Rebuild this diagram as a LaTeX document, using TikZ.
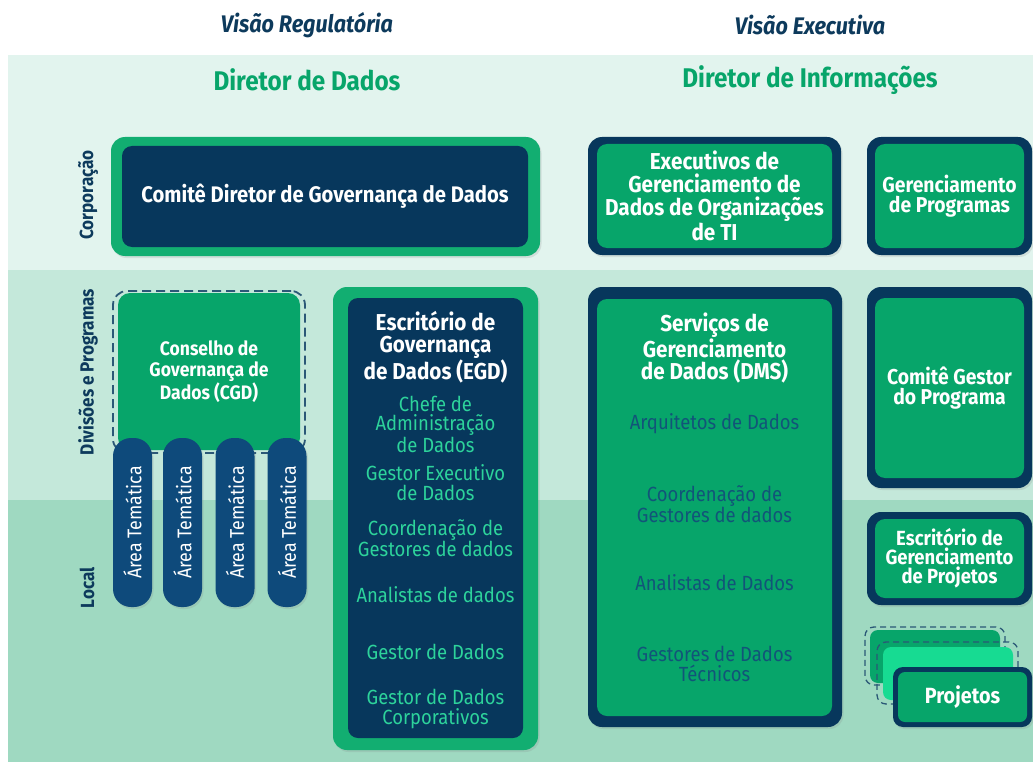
\documentclass[tikz,border=0pt]{standalone}
\usepackage{fontspec}
\setmainfont[FakeStretch=0.9]{Fira Sans}
\usetikzlibrary{shadows}
\definecolor{navy}{HTML}{07375C}
\definecolor{gmain}{HTML}{07A56A}
\definecolor{gouter}{HTML}{12AE71}
\definecolor{gtext}{HTML}{2DD39B}
\definecolor{bandA}{HTML}{E2F4EE}
\definecolor{bandB}{HTML}{C4E8DA}
\definecolor{bandC}{HTML}{9FD9C1}
\definecolor{pillc}{HTML}{0E4A7B}
\definecolor{gbright}{HTML}{17DB92}
\definecolor{dashc}{HTML}{2B5877}
\definecolor{titlec}{HTML}{0D3A5C}
\definecolor{dmstext}{HTML}{125479}
\newcommand\fTop{\fontsize{24}{26}\selectfont\bfseries\itshape}
\newcommand\fHead{\fontsize{27}{29}\selectfont\bfseries}
\newcommand\fBig{\fontsize{22.5}{21.5}\selectfont\bfseries}
\newcommand\fMid{\fontsize{21.5}{20.5}\selectfont\bfseries}
\newcommand\fItem{\fontsize{20.5}{19.8}\selectfont}
\newcommand\fSide{\fontsize{19}{20}\selectfont\bfseries}
\tikzset{
  shell/.style={rounded corners=14pt, inner sep=0pt, outer sep=0pt},
  shad/.style={drop shadow={shadow xshift=1.5pt, shadow yshift=-2pt, opacity=0.18}},
  outG/.style={shell, fill=gouter, shad},
  outN/.style={shell, fill=navy, shad},
  inN/.style={shell, rounded corners=10pt, fill=navy, text=white, align=center},
  inG/.style={shell, rounded corners=10pt, fill=gmain, text=white, align=center},
  sidelbl/.style={rotate=90, text=titlec, font=\fSide},
  itemG/.style={text=gtext, font=\fItem, align=center, inner sep=0pt},
  itemD/.style={text=dmstext, font=\fItem, align=center, inner sep=0pt},
  pillbox/.style={shell, rounded corners=18pt, fill=pillc, text=white, rotate=90, shad,
    minimum width=169pt, minimum height=39pt, font=\fontsize{19.8}{19}\selectfont},
  dashbox/.style={shell, draw=dashc, dash pattern=on 9pt off 5pt, line width=1.8pt},
}
\begin{document}
\begin{tikzpicture}[x=1pt,y=-1pt]
\useasboundingbox (0,0) rectangle (1033,762);
\fill[white] (0,0) rectangle (1033,762);
\fill[bandA] (8,55) rectangle (1033,270);
\fill[bandB] (8,270) rectangle (1033,500);
\fill[bandC] (8,500) rectangle (1033,762);

% headers
\node[text=titlec, font=\fTop] (vreg) at (307,25) {Visão Regulatória};
\node[text=titlec, font=\fTop] (vexe) at (810,25) {Visão Executiva};
\node[text=gmain, font=\fHead] (dd) at (307,80) {Diretor de Dados};
\node[text=gmain, font=\fHead] (di) at (810,80) {Diretor de Informações};

% side labels
\node[sidelbl] (corp) at (88,195) {Corporação};
\node[sidelbl] (divp) at (88,372) {Divisões e Programas};
\node[sidelbl] (loc) at (87,588) {Local};

% Comite Diretor
\node[outG, minimum width=429pt, minimum height=119pt] (cdO) at (325.5,196.5) {};
\node[inN, minimum width=406pt, minimum height=101pt, font=\fBig] (cd) at (325,196.5) {Comitê Diretor de Governança de Dados};

% Executivos
\node[outN, minimum width=253pt, minimum height=118pt] (exO) at (714.5,196) {};
\node[inG, minimum width=235pt, minimum height=104pt, font=\fontsize{23}{23}\selectfont\bfseries] (ex) at (714.5,196) {Executivos de\\Gerenciamento de\\Dados de Organizações\\de TI};

% Gerenciamento de Programas
\node[outN, minimum width=165pt, minimum height=118pt] (gpO) at (949.5,196) {};
\node[inG, minimum width=149pt, minimum height=104pt, font=\fMid] (gp) at (949.5,196) {Gerenciamento\\de Programas};

% CGD
\node[dashbox, minimum width=192pt, minimum height=162pt] (cgdD) at (209,372) {};
\node[shell, rounded corners=12pt, fill=gmain, text=white, align=center, minimum width=182pt, minimum height=157pt, font=\fontsize{19.5}{21}\selectfont\bfseries] (cgd) at (209,371.5) {Conselho de\\Governança de\\Dados (CGD)};

% Areas tematicas
\node[pillbox] (at1) at (132.5,522.5) {Área Temática};
\node[pillbox] (at2) at (182.5,522.5) {Área Temática};
\node[pillbox] (at3) at (235,522.5) {Área Temática};
\node[pillbox] (at4) at (287,522.5) {Área Temática};

% EGD
\node[outG, minimum width=205pt, minimum height=463pt] (egdO) at (435.5,518.5) {};
\node[inN, minimum width=175pt, minimum height=440pt] (egd) at (435.5,518) {};
\node[text=white, font=\fontsize{23}{22}\selectfont\bfseries, align=center, inner sep=0pt] (egdT) at (435.5,347) {Escritório de\\Governança\\de Dados (EGD)};
\node[itemG] (e1) at (435.5,424) {Chefe de\\Administração\\de Dados};
\node[itemG] (e2) at (435.5,483) {Gestor Executivo\\de Dados};
\node[itemG] (e3) at (435.5,538) {Coordenação de\\Gestores de dados};
\node[itemG] (e4) at (435.5,595) {Analistas de dados};
\node[itemG] (e5) at (435.5,652) {Gestor de Dados};
\node[itemG] (e6) at (435.5,709) {Gestor de Dados\\Corporativos};

% DMS
\node[outN, minimum width=254pt, minimum height=440pt] (dmsO) at (715,507) {};
\node[inG, minimum width=235pt, minimum height=417pt] (dms) at (714.5,507.5) {};
\node[text=white, font=\fontsize{23}{21.5}\selectfont\bfseries, align=center, inner sep=0pt] (dmsT) at (714.5,348) {Serviços de\\Gerenciamento\\de Dados (DMS)};
\node[itemD] (d1) at (714.5,424) {Arquitetos de Dados};
\node[itemD] (d2) at (714.5,504) {Coordenação de\\Gestores de dados};
\node[itemD] (d3) at (714.5,583) {Analistas de Dados};
\node[itemD] (d4) at (714.5,664) {Gestores de Dados\\Técnicos};

% Comite Gestor do Programa
\node[outN, minimum width=165pt, minimum height=201pt] (cgpO) at (949.5,387.5) {};
\node[inG, minimum width=149pt, minimum height=180pt, font=\fMid] (cgp) at (949.5,388) {Comitê Gestor\\do Programa};

% Escritorio de Gerenciamento de Projetos
\node[outN, minimum width=165pt, minimum height=93pt] (egpO) at (949.5,558.5) {};
\node[inG, minimum width=149pt, minimum height=79pt, font=\fontsize{20.5}{19}\selectfont\bfseries] (egp) at (949.5,558.5) {Escritório de\\Gerenciamento\\de Projetos};

% Projetos stack
\node[dashbox, rounded corners=9pt, line width=1.3pt, dash pattern=on 6pt off 4pt, minimum width=140pt, minimum height=58pt] (pbD) at (935,656) {};
\node[shell, rounded corners=8pt, fill=gmain, minimum width=130pt, minimum height=53pt] (pb) at (935,656.5) {};
\node[dashbox, rounded corners=9pt, line width=1.3pt, dash pattern=on 6pt off 4pt, minimum width=141pt, minimum height=62pt] (pmD) at (947.5,673) {};
\node[shell, rounded corners=8pt, fill=gbright, minimum width=130pt, minimum height=53pt] (pm) at (948,673.5) {};
\node[outN, rounded corners=10pt, minimum width=139pt, minimum height=60pt] (pfO) at (962.5,697) {};
\node[inG, rounded corners=7pt, minimum width=129pt, minimum height=50pt, font=\fontsize{22}{20}\selectfont\bfseries] (pf) at (962.5,697) {Projetos};
\end{tikzpicture}
\end{document}
